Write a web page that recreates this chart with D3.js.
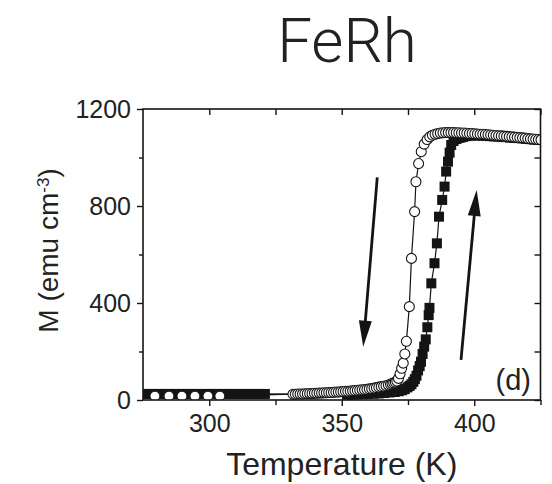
<!DOCTYPE html>
<html>
<head>
<meta charset="utf-8">
<script src="https://cdn.jsdelivr.net/npm/d3@7"></script>
<style>
  html, body { margin: 0; padding: 0; background: #fff; }
  svg { display: block; }
  text { font-family: "Liberation Sans", Arial, Helvetica, sans-serif; fill: #222; }
</style>
</head>
<body>
<svg id="chart" width="552" height="484"></svg>
<script>
// Axis ticks
const xTicks = [300, 350, 400];
const xMinorTicks = [325, 375, 425];
const yTicks = [0, 400, 800, 1200];
const yMinorTicks = [200, 600, 1000];

// Magnetisation on cooling (open circles): [T (K), M (emu cm^-3)]
const coolingCurve = [
  [279.5, 16], [284.8, 16], [289.7, 16], [294.6, 16], [299.5, 16], [304.0, 16],
  [331.6, 24], [332.5, 24], [333.4, 25], [334.3, 25], [335.2, 25], [336.1, 26],
  [337.0, 26], [337.9, 27], [338.8, 27], [339.7, 28], [340.6, 28], [341.5, 29],
  [342.4, 29], [343.3, 30], [344.2, 30], [345.1, 31], [346.0, 31], [346.9, 32],
  [347.8, 33], [348.7, 33], [349.6, 34], [350.5, 35], [351.4, 36], [352.3, 36],
  [353.2, 37], [354.1, 38], [355.0, 39], [355.9, 40], [356.8, 41], [357.7, 42],
  [358.6, 43], [359.5, 44], [360.4, 46], [361.3, 47], [362.2, 49], [363.1, 51],
  [364.0, 53], [364.9, 55], [365.8, 57], [366.7, 59], [367.6, 62], [368.4, 65],
  [369.0, 68], [369.6, 71], [370.2, 74], [370.8, 78], [371.4, 89], [372.0, 108],
  [372.6, 131], [373.2, 152], [373.8, 190], [374.4, 242], [375.5, 385], [376.3, 584],
  [377.5, 777], [378.0, 900], [379.0, 975], [380.0, 1024], [381.1, 1055], [382.2, 1074],
  [383.2, 1085], [384.2, 1092], [385.2, 1096], [386.2, 1099], [387.2, 1101], [388.2, 1102],
  [389.2, 1103], [390.2, 1103], [391.2, 1103], [392.2, 1103], [393.2, 1102], [394.2, 1102],
  [395.2, 1101], [396.2, 1101], [397.2, 1100], [398.2, 1099], [399.2, 1099], [400.2, 1098],
  [401.2, 1097], [402.2, 1096], [403.2, 1096], [404.2, 1095], [405.2, 1094], [406.2, 1093],
  [407.2, 1092], [408.2, 1091], [409.2, 1090], [410.2, 1089], [411.2, 1088], [412.2, 1087],
  [413.2, 1086], [414.2, 1085], [415.2, 1084], [416.2, 1083], [417.2, 1082], [418.2, 1081],
  [419.2, 1080], [420.2, 1078], [421.2, 1077], [422.2, 1076], [423.2, 1075], [424.2, 1074],
  [425.2, 1073]
];

// Magnetisation on heating (filled squares): [T (K), M (emu cm^-3)]
const heatingCurve = [
  [275, 25], [277, 25], [279, 25], [281, 25], [283, 25], [285, 25], [287, 25], [289, 25],
  [291, 25], [293, 25], [295, 25], [297, 25], [299, 25], [301, 25], [303, 25], [305, 25],
  [307, 25], [309, 25], [311, 25], [313, 25], [315, 25], [317, 25], [319, 25], [321, 25],
  [352, 22], [354, 22], [356, 23], [358, 24], [360, 25], [362, 26], [364, 27], [366, 29],
  [368, 31], [370, 33], [371.5, 36], [372.8, 40], [373.8, 45], [374.8, 52], [375.6, 58],
  [376.3, 65], [377.0, 75], [377.6, 86], [378.2, 100], [378.8, 122], [379.4, 140],
  [379.9, 158], [380.5, 190], [381.1, 220], [381.7, 250], [382.3, 300], [382.8, 350],
  [383.1, 380], [383.8, 481], [385.0, 564], [385.9, 646], [386.7, 756], [387.9, 825],
  [388.8, 880], [389.4, 942], [390.1, 983], [390.7, 1020], [391.3, 1052], [392.2, 1068],
  [393.3, 1076], [394.5, 1081], [395.7, 1084], [397.0, 1088], [398.5, 1090], [400.0, 1091],
  [401.5, 1091], [403.0, 1090], [404.5, 1089], [406.0, 1088], [407.5, 1087], [409.0, 1086],
  [410.5, 1085], [412.0, 1084], [413.5, 1082], [415.0, 1081], [416.5, 1080], [418.0, 1079],
  [419.5, 1077], [421.0, 1076], [422.5, 1074], [424.0, 1073], [425.5, 1072]
];

// Direction arrows: [T start, M start, T tip, M tip]
const coolingArrow = [363.4, 918, 358.1, 220];
const heatingArrow = [395.0, 165, 400.9, 866];

const svg = d3.select("#chart");
const plot = { left: 143, right: 540.5, top: 109, bottom: 400 };

const x = d3.scaleLinear().domain([275, 425]).range([plot.left, plot.right]);
const y = d3.scaleLinear().domain([0, 1200]).range([plot.bottom, plot.top]);

const ink = "#141414";

// Clip marks to the plotting frame
svg.append("defs").append("clipPath").attr("id", "plotClip")
  .append("rect")
  .attr("x", plot.left).attr("y", plot.top)
  .attr("width", plot.right - plot.left).attr("height", plot.bottom - plot.top);

const marks = svg.append("g").attr("clip-path", "url(#plotClip)");

const line = d3.line().x(d => x(d[0])).y(d => y(d[1]));

// Heating branch
marks.append("path").datum(heatingCurve)
  .attr("d", line).attr("fill", "none").attr("stroke", ink).attr("stroke-width", 1.2);
const sq = 10;
marks.append("g").selectAll("rect").data(heatingCurve).join("rect")
  .attr("x", d => x(d[0]) - sq / 2).attr("y", d => y(d[1]) - sq / 2)
  .attr("width", sq).attr("height", sq).attr("fill", ink);

// Cooling branch
marks.append("path").datum(coolingCurve)
  .attr("d", line).attr("fill", "none").attr("stroke", ink).attr("stroke-width", 1.2);
marks.append("g").selectAll("circle").data(coolingCurve).join("circle")
  .attr("cx", d => x(d[0])).attr("cy", d => y(d[1])).attr("r", 5)
  .attr("fill", "#fff").attr("stroke", ink).attr("stroke-width", 1.1);

// Arrows
function drawArrow(a) {
  const x0 = x(a[0]), y0 = y(a[1]), x1 = x(a[2]), y1 = y(a[3]);
  const dx = x1 - x0, dy = y1 - y0, L = Math.hypot(dx, dy);
  const ux = dx / L, uy = dy / L;
  const hl = 26, hw = 6.5;
  const bx = x1 - ux * hl, by = y1 - uy * hl;
  svg.append("line")
    .attr("x1", x0).attr("y1", y0).attr("x2", bx + ux * 3).attr("y2", by + uy * 3)
    .attr("stroke", ink).attr("stroke-width", 2.8);
  svg.append("path")
    .attr("d", `M${x1},${y1}L${bx - uy * hw},${by + ux * hw}L${bx + uy * hw},${by - ux * hw}Z`)
    .attr("fill", ink);
}
drawArrow(coolingArrow);
drawArrow(heatingArrow);

// Axes
const tickFont = 25;
function styleAxis(g) {
  g.select(".domain").remove();
  g.selectAll(".tick line").attr("stroke", ink).attr("stroke-width", 1.4);
}

const gBottom = svg.append("g").attr("transform", `translate(0,${plot.bottom})`)
  .call(d3.axisBottom(x).tickValues(xTicks).tickSize(6).tickPadding(8).tickFormat(d3.format("d")));
styleAxis(gBottom);
gBottom.selectAll("text").attr("font-size", tickFont).attr("fill", "#222");
svg.append("g").attr("transform", `translate(0,${plot.bottom})`)
  .call(d3.axisBottom(x).tickValues(xMinorTicks).tickSize(5).tickFormat(""))
  .call(styleAxis);

const gLeft = svg.append("g").attr("transform", `translate(${plot.left},0)`)
  .call(d3.axisLeft(y).tickValues(yTicks).tickSize(6).tickPadding(6).tickFormat(d3.format("d")));
styleAxis(gLeft);
gLeft.selectAll("text").attr("font-size", tickFont).attr("fill", "#222");
svg.append("g").attr("transform", `translate(${plot.left},0)`)
  .call(d3.axisLeft(y).tickValues(yMinorTicks).tickSize(4).tickFormat(""))
  .call(styleAxis);

svg.append("g").attr("transform", `translate(0,${plot.top})`)
  .call(d3.axisTop(x).tickValues(xTicks.concat(xMinorTicks)).tickSize(-6).tickFormat(""))
  .call(styleAxis);
svg.append("g").attr("transform", `translate(${plot.right},0)`)
  .call(d3.axisRight(y).tickValues(yTicks.concat(yMinorTicks)).tickSize(-6).tickFormat(""))
  .call(styleAxis);

// Frame
svg.append("rect")
  .attr("x", plot.left).attr("y", plot.top)
  .attr("width", plot.right - plot.left).attr("height", plot.bottom - plot.top)
  .attr("fill", "none").attr("stroke", ink).attr("stroke-width", 1.6);

// Labels
svg.append("text")
  .attr("x", 347).attr("y", 62).attr("text-anchor", "middle")
  .style("font-family", "Roboto, 'Helvetica Neue', sans-serif")
  .attr("font-weight", 300).attr("font-size", 62).attr("fill", "#111")
  .text("FeRh");

svg.append("text")
  .attr("x", (plot.left + plot.right) / 2).attr("y", 475).attr("text-anchor", "middle")
  .attr("font-size", 32)
  .text("Temperature (K)");

const yLabel = svg.append("text")
  .attr("transform", `translate(58,${(plot.top + plot.bottom) / 2 - 4}) rotate(-90)`)
  .attr("text-anchor", "middle").attr("font-size", 28);
yLabel.append("tspan").text("M (emu cm");
yLabel.append("tspan").attr("baseline-shift", "super").attr("font-size", 17).text("-3");
yLabel.append("tspan").text(")");

svg.append("text")
  .attr("x", 531).attr("y", 390).attr("text-anchor", "end")
  .attr("font-size", 29)
  .text("(d)");
</script>
</body>
</html>
